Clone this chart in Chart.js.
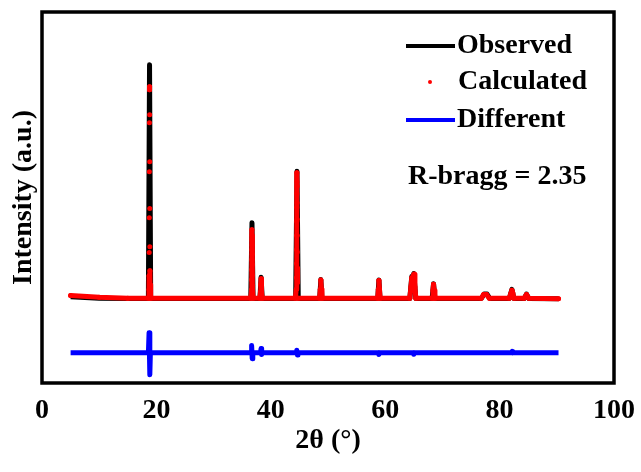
<!DOCTYPE html>
<html>
<head>
<meta charset="utf-8">
<script src="https://cdn.jsdelivr.net/npm/chart.js@4"></script>
<style>
  html, body { margin: 0; padding: 0; background: #fff; }
  #wrap { width: 641px; height: 472px; }
</style>
</head>
<body>
<div id="wrap"><canvas id="myChart" width="641" height="472"></canvas></div>
<script>
// 2theta / intensity pairs (baseline of observed = 0)
var observed = [
  [5, 80], [10, 20], [15, 10], [18.6, 10], [18.8, 10000], [19.0, 10],
  [36.5, 10], [36.71, 3250], [36.9, 10],
  [38.1, 10], [38.3, 920], [38.5, 10],
  [44.35, 10], [44.58, 5450], [44.8, 10],
  [48.55, 10], [48.75, 820], [48.95, 10],
  [58.7, 10], [58.9, 800], [59.1, 10],
  [64.3, 10], [64.65, 950], [64.8, 800], [65.0, 1080], [65.35, 10],
  [68.2, 10], [68.45, 640], [68.7, 10],
  [76.8, 10], [77.3, 200], [77.8, 200], [78.3, 10],
  [81.7, 10], [82.15, 400], [82.5, 10],
  [84.3, 10], [84.7, 200], [85.1, 10],
  [90.3, 0]
];

var calculated = [
  [5, 140], [10, 60], [15, 20], [18.6, 20],
  [18.70, 380], [18.72, 980], [18.74, 1970], [18.76, 3460], [18.77, 5430], [18.78, 7520], [18.79, 8930],
  [18.81, 9060], [18.82, 7860], [18.83, 5850], [18.84, 3850], [18.85, 2220], [18.87, 1200], [18.89, 600],
  [19.0, 20],
  [36.5, 20], [36.62, 380], [36.64, 810], [36.66, 1240], [36.68, 1670], [36.69, 2090], [36.70, 2520], [36.71, 2950],
  [36.72, 2700], [36.74, 2300], [36.76, 1900], [36.78, 1450], [36.80, 1000], [36.82, 550], [36.9, 20],
  [38.1, 20], [38.2, 300], [38.25, 600], [38.3, 850], [38.35, 600], [38.4, 300], [38.5, 20],
  [44.3, 20], [44.45, 400], [44.48, 900], [44.5, 1500], [44.52, 2100], [44.53, 2700], [44.54, 3300],
  [44.55, 3900], [44.56, 4500], [44.57, 5000], [44.58, 5380], [44.59, 4800], [44.6, 4100], [44.61, 3400],
  [44.62, 2700], [44.64, 2000], [44.66, 1300], [44.68, 700], [44.8, 20],
  [48.55, 20], [48.65, 400], [48.75, 800], [48.85, 400], [48.95, 20],
  [58.7, 20], [58.8, 400], [58.9, 780], [59.0, 400], [59.1, 20],
  [64.3, 20], [64.5, 500], [64.65, 900], [64.8, 750], [64.95, 1000], [65.05, 1050], [65.2, 500], [65.35, 20],
  [68.2, 20], [68.35, 350], [68.45, 620], [68.55, 350], [68.7, 20],
  [76.8, 20], [77.2, 180], [77.7, 180], [78.2, 20],
  [81.7, 20], [82.0, 250], [82.15, 360], [82.3, 250], [82.5, 20],
  [84.3, 20], [84.7, 180], [85.1, 20],
  [90.3, 0]
];

var different = [
  [5, -2310], [18.6, -2310], [18.72, -1450], [18.85, -3250], [18.95, -2310],
  [36.55, -2310], [36.65, -2000], [36.75, -2560], [36.85, -2310],
  [38.2, -2310], [38.3, -2130], [38.4, -2380], [38.5, -2310],
  [44.45, -2310], [44.55, -2200], [44.65, -2400], [44.75, -2310],
  [58.8, -2310], [58.9, -2380], [59.0, -2310],
  [64.9, -2310], [65.0, -2370], [65.1, -2310],
  [82.1, -2310], [82.2, -2250], [82.3, -2310],
  [90.3, -2310]
];

var xTicks = [0, 20, 40, 60, 80, 100];
var legendNames = ["Observed", "Calculated", "Different"];
var rText = "R-bragg = 2.35";

var serif = "'Liberation Serif', 'Times New Roman', serif";

function toXY(arr) {
  return arr.map(function (p) { return {x: p[0], y: p[1]}; });
}

// frame + legend drawn on top
var extras = {
  id: "extras",
  afterDraw: function (chart) {
    var ctx = chart.ctx;
    var a = chart.chartArea;
    ctx.save();
    ctx.strokeStyle = "#000";
    ctx.lineWidth = 3.5;
    ctx.strokeRect(a.left, a.top, a.right - a.left, a.bottom - a.top);

    ctx.font = "bold 28px " + serif;
    ctx.textBaseline = "middle";
    ctx.fillStyle = "#000";

    ctx.lineWidth = 4;
    ctx.strokeStyle = "#000";
    ctx.beginPath(); ctx.moveTo(406, 46); ctx.lineTo(455, 46); ctx.stroke();
    ctx.fillText(legendNames[0], 457, 46);

    ctx.fillStyle = "#ff0000";
    ctx.beginPath(); ctx.arc(430, 82, 2, 0, Math.PI * 2); ctx.fill();
    ctx.fillStyle = "#000";
    ctx.fillText(legendNames[1], 458, 82);

    ctx.strokeStyle = "#0000ff";
    ctx.beginPath(); ctx.moveTo(406, 120); ctx.lineTo(455, 120); ctx.stroke();
    ctx.fillText(legendNames[2], 457, 120);

    ctx.fillText(rText, 408, 177);
    ctx.restore();
  }
};

new Chart("myChart", {
  type: "scatter",
  data: {
    datasets: [
      {
        label: legendNames[1],
        data: toXY(calculated),
        showLine: true,
        borderColor: "#ff0000",
        backgroundColor: "#ff0000",
        borderWidth: 5,
        borderJoinStyle: "round",
        borderCapStyle: "round",
        pointRadius: 2.5,
        pointBorderWidth: 0,
        segment: {
          // only dense runs look like a solid line, sparse peak points stay dots
          borderColor: function (c) {
            return Math.abs(c.p0.y - c.p1.y) > 15 ? "rgba(0,0,0,0)" : "#ff0000";
          }
        },
        order: 1
      },
      {
        label: legendNames[0],
        data: toXY(observed),
        showLine: true,
        borderColor: "#000",
        borderWidth: 5,
        borderJoinStyle: "round",
        pointRadius: 0,
        order: 2
      },
      {
        label: legendNames[2],
        data: toXY(different),
        showLine: true,
        borderColor: "#0000ff",
        borderWidth: 5,
        borderJoinStyle: "round",
        pointRadius: 0,
        order: 3
      }
    ]
  },
  options: {
    responsive: false,
    animation: false,
    devicePixelRatio: 1,
    layout: {padding: {top: 12, right: 27, left: 0, bottom: 0}},
    plugins: {legend: {display: false}, tooltip: {enabled: false}},
    scales: {
      x: {
        type: "linear",
        min: 0,
        max: 100,
        afterBuildTicks: function (s) { s.ticks = xTicks.map(function (v) { return {value: v}; }); },
        afterFit: function (s) { s.height = 89; s.paddingLeft = 0; s.paddingRight = 0; },
        grid: {display: false, drawTicks: false},
        border: {display: false},
        ticks: {color: "#000", padding: 11, maxRotation: 0, font: {family: serif, size: 28, weight: "bold"}},
        title: {display: true, text: "2θ (°)", color: "#000", padding: {top: 0, bottom: 14},
                font: {family: serif, size: 28, weight: "bold"}}
      },
      y: {
        min: -3600,
        max: 12250,
        afterFit: function (s) { s.width = 42; },
        grid: {display: false, drawTicks: false},
        border: {display: false},
        ticks: {display: false},
        title: {display: true, text: "Intensity (a.u.)", color: "#000", padding: {top: 7, bottom: 0},
                font: {family: serif, size: 28, weight: "bold"}}
      }
    }
  },
  plugins: [extras]
});
</script>
</body>
</html>
